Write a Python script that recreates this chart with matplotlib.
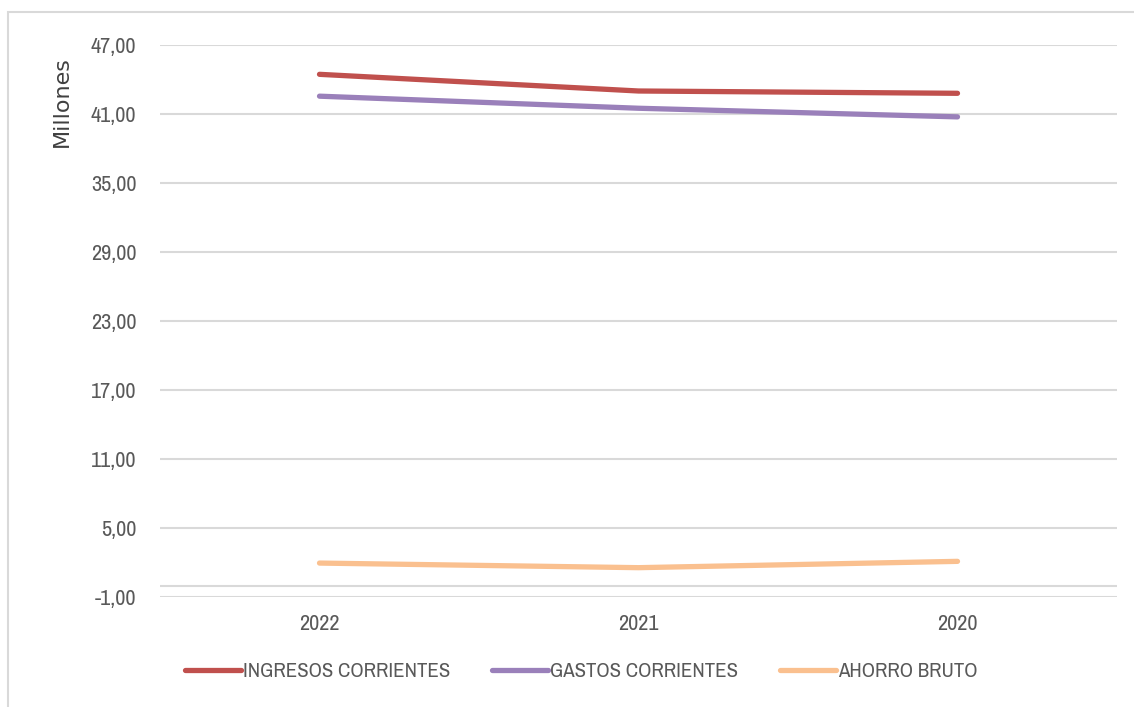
import matplotlib.pyplot as plt
from matplotlib import font_manager
from matplotlib.patches import Rectangle
from matplotlib.ticker import FuncFormatter

# Datos (millones)
anios = ["2022", "2021", "2020"]
ingresos = [44.45, 43.0, 42.8]
gastos = [42.55, 41.5, 40.75]
ahorro = [1.95, 1.55, 2.1]

series = ["INGRESOS CORRIENTES", "GASTOS CORRIENTES", "AHORRO BRUTO"]
colores = ["#C0504D", "#9A80BA", "#FAC08F"]
yticks = [-1, 5, 11, 17, 23, 29, 35, 41, 47]

# fuente estrecha tipo Calibri, si hay alguna
nombres = sorted({f.name for f in font_manager.fontManager.ttflist})
estrechas = [n for n in nombres if "Narrow" in n or "Condensed" in n]
plt.rcParams["font.family"] = estrechas + ["DejaVu Sans"]
plt.rcParams["font.stretch"] = "condensed"

fig = plt.figure(figsize=(11.34, 7.07), dpi=100)
ax = fig.add_axes([160 / 1134, 1 - 597 / 707, (1117 - 160) / 1134, (597 - 45) / 707])

# marco exterior del gráfico
fig.patches.append(Rectangle((8 / 1134, -0.1), 1.2, 1 - 12 / 707 + 0.1,
                             transform=fig.transFigure, fill=False,
                             edgecolor="#D9D9D9", linewidth=1.5))

x = range(len(anios))
for datos, nombre, color in zip([ingresos, gastos, ahorro], series, colores):
    ax.plot(x, datos, color=color, linewidth=3.8, solid_capstyle="round",
            label=nombre, zorder=3)

ax.set_xlim(-0.5, 2.5)
ax.set_ylim(-1, 47)
ax.set_yticks(yticks)
ax.yaxis.set_major_formatter(FuncFormatter(lambda v, p: f"{v:.2f}".replace(".", ",")))
ax.set_xticks(list(x))
ax.set_xticklabels(anios)

ax.grid(axis="y", color="#D9D9D9", linewidth=1.5)
ax.axhline(0, color="#D9D9D9", linewidth=1.5)
for s in ax.spines.values():
    s.set_visible(False)
ax.tick_params(length=0, labelsize=16, colors="#595959")
ax.tick_params(axis="y", pad=17)
ax.tick_params(axis="x", pad=12)

fig.text(62 / 1134, 1 - 102 / 707, "Millones", rotation=90, ha="center",
         va="center", fontsize=16, color="#404040", family="DejaVu Sans",
         stretch="normal")

ax.legend(loc="center", bbox_to_anchor=(0.44, -0.135), ncol=3, frameon=False,
          fontsize=15, handlelength=2.7, handletextpad=0.1, columnspacing=2.0,
          labelcolor="#595959")

fig.savefig("out.png", dpi=100)
